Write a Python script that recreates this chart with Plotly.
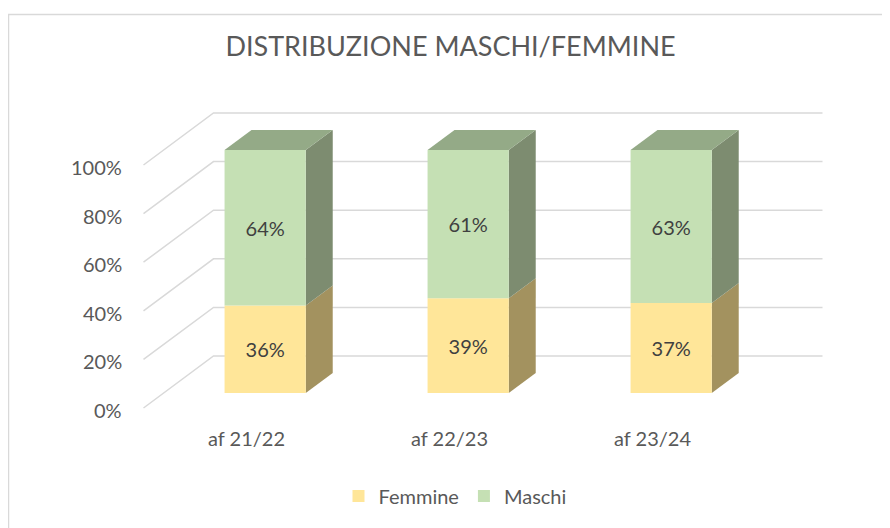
import plotly.graph_objects as go

# ---- data ----
categories = ["af 21/22", "af 22/23", "af 23/24"]
femmine = [36, 39, 37]
maschi = [64, 61, 63]
y_ticks = [0, 20, 40, 60, 80, 100]
y_tick_labels = ["0%", "20%", "40%", "60%", "80%", "100%"]

# ---- styling / projection constants ----
PAGE = 8              # default body margin of the html page
W, H = 890 - PAGE, 528 - PAGE
PX_X = 203.0          # pixels per category unit
X0_PX = 245.0 - PAGE  # pixel of category 0 on the front plane
PX_Y = 2.43           # pixels per percent
Y0_PX = 408.0 - PAGE  # pixel of 0% on the front plane
DEPTH_X = 70.0 / PX_X  # full floor depth offset (data units)
DEPTH_Y = 52.0 / PX_Y
T_FRONT = 0.288       # bar front face depth fraction
T_BACK = 0.673        # bar back face depth fraction
BAR_W = 0.4
FLOOR_L, FLOOR_R = -0.5, len(categories) - 0.5

FONT = "Lato"
GRID = "#D9D9D9"
TXT = "#595959"
col_f = dict(front="#FFE699", side="#A3925F", top="#BFAE74")
col_m = dict(front="#C5E0B4", side="#7D8C70", top="#94AA87")

x_range = [(0 - X0_PX) / PX_X, (W - X0_PX) / PX_X]
y_range = [(Y0_PX - H) / PX_Y, Y0_PX / PX_Y]


def proj(x, y, t):
    return x + DEPTH_X * t, y + DEPTH_Y * t


def path(points):
    return "M " + " L ".join(f"{px:.4f},{py:.4f}" for px, py in points) + " Z"


shapes = []
# outer chart border
shapes.append(dict(type="rect", xref="paper", yref="paper",
                   x0=(8.5 - PAGE) / W, x1=1.05, y0=-0.05, y1=1 - (14.5 - PAGE) / H,
                   line=dict(color=GRID, width=1.5), fillcolor="rgba(0,0,0,0)",
                   layer="below"))
# gridlines: side wall diagonals + back wall horizontals
for v in y_ticks:
    ax, ay = proj(FLOOR_L, v, 0)
    bx, by = proj(FLOOR_L, v, 1)
    cx, cy = proj(FLOOR_R, v, 1)
    shapes.append(dict(type="path", xref="x", yref="y",
                       path=f"M {ax},{ay} L {bx},{by} L {cx},{cy}",
                       line=dict(color=GRID, width=1.5), layer="below"))

# bar side and top faces
dfx = DEPTH_X * T_FRONT
dfy = DEPTH_Y * T_FRONT
for i in range(len(categories)):
    segs = [(0, femmine[i], col_f), (femmine[i], femmine[i] + maschi[i], col_m)]
    xl = i - BAR_W / 2
    xr = i + BAR_W / 2
    for k, (b, tp, col) in enumerate(segs):
        side = [proj(xr, b, T_FRONT), proj(xr, b, T_BACK),
                proj(xr, tp, T_BACK), proj(xr, tp, T_FRONT)]
        shapes.append(dict(type="path", xref="x", yref="y", path=path(side),
                           fillcolor=col["side"], line=dict(width=0), layer="below"))
        if k == len(segs) - 1:
            top = [proj(xl, tp, T_FRONT), proj(xr, tp, T_FRONT),
                   proj(xr, tp, T_BACK), proj(xl, tp, T_BACK)]
            shapes.append(dict(type="path", xref="x", yref="y", path=path(top),
                               fillcolor=col["top"], line=dict(width=0), layer="below"))

xpos = [i + dfx for i in range(len(categories))]
fig = go.Figure()
fig.add_trace(go.Bar(
    name="Femmine", x=xpos, y=femmine, base=[dfy] * len(femmine), width=BAR_W,
    marker=dict(color=col_f["front"], line=dict(width=0)),
    text=[f"{v}%" for v in femmine], textposition="inside",
    insidetextanchor="middle", textangle=0,
    textfont=dict(family=FONT, size=20, color="#404040"),
))
fig.add_trace(go.Bar(
    name="Maschi", x=xpos, y=maschi, base=[dfy + f for f in femmine], width=BAR_W,
    marker=dict(color=col_m["front"], line=dict(width=0)),
    text=[f"{v}%" for v in maschi], textposition="inside",
    insidetextanchor="middle", textangle=0,
    textfont=dict(family=FONT, size=20, color="#404040"),
))

annotations = []
for v, lab in zip(y_ticks, y_tick_labels):
    annotations.append(dict(x=FLOOR_L, y=v, xref="x", yref="y", text=lab,
                            showarrow=False, xanchor="right", yanchor="middle",
                            xshift=-20, yshift=-2,
                            font=dict(family=FONT, size=20, color=TXT)))
for i, c in enumerate(categories):
    annotations.append(dict(x=i, y=0, xref="x", yref="y", text=c,
                            showarrow=False, xanchor="center", yanchor="middle",
                            xshift=1, yshift=-30,
                            font=dict(family=FONT, size=20, color=TXT)))

fig.update_layout(
    width=W, height=H,
    margin=dict(l=0, r=0, t=0, b=0),
    paper_bgcolor="white", plot_bgcolor="white",
    barmode="overlay",
    title=dict(text="DISTRIBUZIONE MASCHI/FEMMINE", x=(450.5 - PAGE) / W,
               xanchor="center", y=1 - (47 - PAGE) / H, yanchor="middle",
               font=dict(family=FONT, size=27, color=TXT)),
    xaxis=dict(range=x_range, visible=False, fixedrange=True),
    yaxis=dict(range=y_range, visible=False, fixedrange=True),
    shapes=shapes,
    annotations=annotations,
    legend=dict(orientation="h", x=(455 - PAGE) / W, xanchor="center",
                y=1 - (496 - PAGE) / H, yanchor="middle",
                font=dict(family=FONT, size=20, color=TXT),
                bgcolor="rgba(0,0,0,0)"),
    hovermode=False,
)

fig.write_html("out.html")
